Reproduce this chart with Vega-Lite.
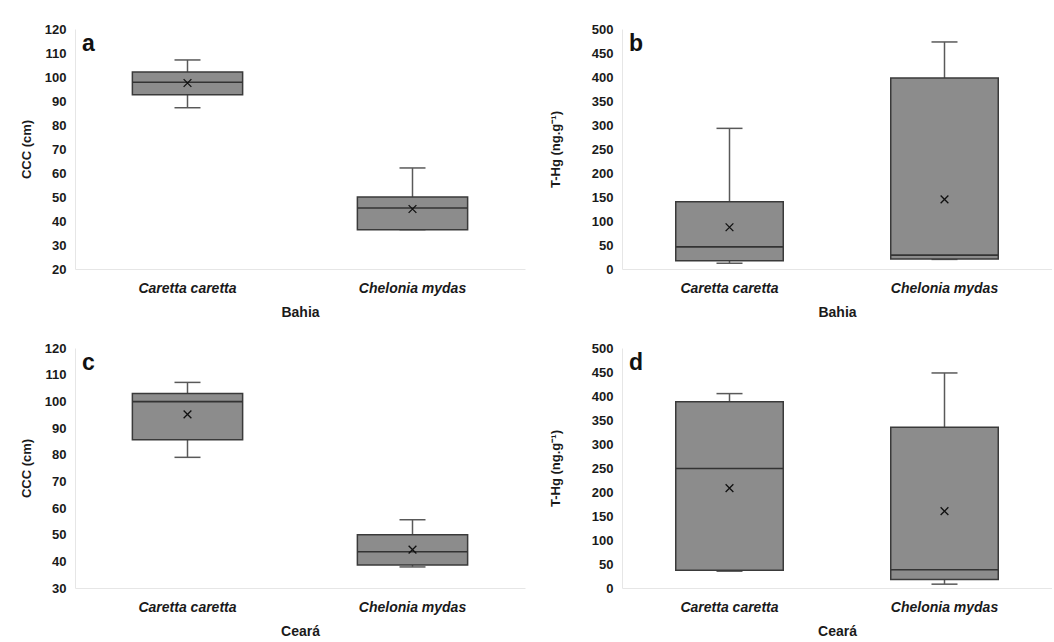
{
  "$schema": "https://vega.github.io/schema/vega-lite/v6.json",
  "padding": {"left": 20, "top": 23, "right": 0, "bottom": 0},
  "background": "white",
  "data": {"values": [
    {"panel": "a", "species": "Caretta caretta", "lower": 87.2, "q1": 92.6, "median": 97.8, "q3": 102.1, "upper": 107.1, "mean": 97.5},
    {"panel": "a", "species": "Chelonia mydas", "lower": 36.4, "q1": 36.4, "median": 45.4, "q3": 50, "upper": 62.1, "mean": 45},
    {"panel": "b", "species": "Caretta caretta", "lower": 12, "q1": 17, "median": 46, "q3": 140, "upper": 293, "mean": 87},
    {"panel": "b", "species": "Chelonia mydas", "lower": 20, "q1": 21, "median": 29, "q3": 398, "upper": 473, "mean": 145},
    {"panel": "c", "species": "Caretta caretta", "lower": 79, "q1": 85.6, "median": 99.9, "q3": 102.9, "upper": 107.1, "mean": 95.1},
    {"panel": "c", "species": "Chelonia mydas", "lower": 37.9, "q1": 38.6, "median": 43.6, "q3": 50, "upper": 55.6, "mean": 44.4},
    {"panel": "d", "species": "Caretta caretta", "lower": 35, "q1": 37, "median": 249, "q3": 388, "upper": 405, "mean": 208},
    {"panel": "d", "species": "Chelonia mydas", "lower": 8, "q1": 17.5, "median": 38, "q3": 335, "upper": 448, "mean": 160}
  ]},
  "columns": 2,
  "spacing": {"row": 79, "column": 97},
  "bounds": "flush",
  "concat": [
    {
      "width": 450, "height": 240,
      "title": {"text": "a", "anchor": "start", "frame": "group", "offset": -33, "dx": 7},
      "transform": [{"filter": "datum.panel == 'a'"}],
      "encoding": {
        "x": {"field": "species", "type": "nominal", "sort": null, "scale": {"paddingInner": 0, "paddingOuter": 0}, "title": "Bahia"}
      },
      "layer": [
        {"mark": {"type": "rule", "color": "#595959", "strokeWidth": 1.5}, "encoding": {"y": {"field": "lower", "type": "quantitative", "scale": {"domain": [20, 120], "nice": false, "zero": false}, "axis": {"titlePadding": 11}, "title": "CCC (cm)"}, "y2": {"field": "q1"}}},
        {"mark": {"type": "rule", "color": "#595959", "strokeWidth": 1.5}, "encoding": {"y": {"field": "q3", "type": "quantitative"}, "y2": {"field": "upper"}}},
        {"mark": {"type": "tick", "orient": "horizontal", "size": 26, "thickness": 1.5, "color": "#595959", "opacity": 1}, "encoding": {"y": {"field": "lower", "type": "quantitative"}}},
        {"mark": {"type": "tick", "orient": "horizontal", "size": 26, "thickness": 1.5, "color": "#595959", "opacity": 1}, "encoding": {"y": {"field": "upper", "type": "quantitative"}}},
        {"mark": {"type": "bar", "width": {"band": 0.49}, "fill": "#8c8c8c", "stroke": "#3a3a3a", "strokeWidth": 1.5}, "encoding": {"y": {"field": "q1", "type": "quantitative"}, "y2": {"field": "q3"}}},
        {"mark": {"type": "tick", "orient": "horizontal", "size": 110, "thickness": 1.6, "color": "#333333", "opacity": 1}, "encoding": {"y": {"field": "median", "type": "quantitative"}}},
        {"mark": {"type": "point", "shape": "M-1,-1L1,1M1,-1L-1,1", "size": 60, "filled": false, "stroke": "#111111", "strokeWidth": 1.3, "opacity": 1}, "encoding": {"y": {"field": "mean", "type": "quantitative"}}}
      ]
    },
    {
      "width": 430, "height": 240,
      "title": {"text": "b", "anchor": "start", "frame": "group", "offset": -33, "dx": 7},
      "transform": [{"filter": "datum.panel == 'b'"}],
      "encoding": {
        "x": {"field": "species", "type": "nominal", "sort": null, "scale": {"paddingInner": 0, "paddingOuter": 0}, "title": "Bahia"}
      },
      "layer": [
        {"mark": {"type": "rule", "color": "#595959", "strokeWidth": 1.5}, "encoding": {"y": {"field": "lower", "type": "quantitative", "scale": {"domain": [0, 500], "nice": false}, "axis": {"titlePadding": 29}, "title": "T-Hg (ng.g⁻¹)"}, "y2": {"field": "q1"}}},
        {"mark": {"type": "rule", "color": "#595959", "strokeWidth": 1.5}, "encoding": {"y": {"field": "q3", "type": "quantitative"}, "y2": {"field": "upper"}}},
        {"mark": {"type": "tick", "orient": "horizontal", "size": 26, "thickness": 1.5, "color": "#595959", "opacity": 1}, "encoding": {"y": {"field": "lower", "type": "quantitative"}}},
        {"mark": {"type": "tick", "orient": "horizontal", "size": 26, "thickness": 1.5, "color": "#595959", "opacity": 1}, "encoding": {"y": {"field": "upper", "type": "quantitative"}}},
        {"mark": {"type": "bar", "width": {"band": 0.5}, "fill": "#8c8c8c", "stroke": "#3a3a3a", "strokeWidth": 1.5}, "encoding": {"y": {"field": "q1", "type": "quantitative"}, "y2": {"field": "q3"}}},
        {"mark": {"type": "tick", "orient": "horizontal", "size": 107, "thickness": 1.6, "color": "#333333", "opacity": 1}, "encoding": {"y": {"field": "median", "type": "quantitative"}}},
        {"mark": {"type": "point", "shape": "M-1,-1L1,1M1,-1L-1,1", "size": 60, "filled": false, "stroke": "#111111", "strokeWidth": 1.3, "opacity": 1}, "encoding": {"y": {"field": "mean", "type": "quantitative"}}}
      ]
    },
    {
      "width": 450, "height": 240,
      "title": {"text": "c", "anchor": "start", "frame": "group", "offset": -33, "dx": 7},
      "transform": [{"filter": "datum.panel == 'c'"}],
      "encoding": {
        "x": {"field": "species", "type": "nominal", "sort": null, "scale": {"paddingInner": 0, "paddingOuter": 0}, "title": "Ceará"}
      },
      "layer": [
        {"mark": {"type": "rule", "color": "#595959", "strokeWidth": 1.5}, "encoding": {"y": {"field": "lower", "type": "quantitative", "scale": {"domain": [30, 120], "nice": false, "zero": false}, "axis": {"titlePadding": 11}, "title": "CCC (cm)"}, "y2": {"field": "q1"}}},
        {"mark": {"type": "rule", "color": "#595959", "strokeWidth": 1.5}, "encoding": {"y": {"field": "q3", "type": "quantitative"}, "y2": {"field": "upper"}}},
        {"mark": {"type": "tick", "orient": "horizontal", "size": 26, "thickness": 1.5, "color": "#595959", "opacity": 1}, "encoding": {"y": {"field": "lower", "type": "quantitative"}}},
        {"mark": {"type": "tick", "orient": "horizontal", "size": 26, "thickness": 1.5, "color": "#595959", "opacity": 1}, "encoding": {"y": {"field": "upper", "type": "quantitative"}}},
        {"mark": {"type": "bar", "width": {"band": 0.49}, "fill": "#8c8c8c", "stroke": "#3a3a3a", "strokeWidth": 1.5}, "encoding": {"y": {"field": "q1", "type": "quantitative"}, "y2": {"field": "q3"}}},
        {"mark": {"type": "tick", "orient": "horizontal", "size": 110, "thickness": 1.6, "color": "#333333", "opacity": 1}, "encoding": {"y": {"field": "median", "type": "quantitative"}}},
        {"mark": {"type": "point", "shape": "M-1,-1L1,1M1,-1L-1,1", "size": 60, "filled": false, "stroke": "#111111", "strokeWidth": 1.3, "opacity": 1}, "encoding": {"y": {"field": "mean", "type": "quantitative"}}}
      ]
    },
    {
      "width": 430, "height": 240,
      "title": {"text": "d", "anchor": "start", "frame": "group", "offset": -33, "dx": 7},
      "transform": [{"filter": "datum.panel == 'd'"}],
      "encoding": {
        "x": {"field": "species", "type": "nominal", "sort": null, "scale": {"paddingInner": 0, "paddingOuter": 0}, "title": "Ceará"}
      },
      "layer": [
        {"mark": {"type": "rule", "color": "#595959", "strokeWidth": 1.5}, "encoding": {"y": {"field": "lower", "type": "quantitative", "scale": {"domain": [0, 500], "nice": false}, "axis": {"titlePadding": 29}, "title": "T-Hg (ng.g⁻¹)"}, "y2": {"field": "q1"}}},
        {"mark": {"type": "rule", "color": "#595959", "strokeWidth": 1.5}, "encoding": {"y": {"field": "q3", "type": "quantitative"}, "y2": {"field": "upper"}}},
        {"mark": {"type": "tick", "orient": "horizontal", "size": 26, "thickness": 1.5, "color": "#595959", "opacity": 1}, "encoding": {"y": {"field": "lower", "type": "quantitative"}}},
        {"mark": {"type": "tick", "orient": "horizontal", "size": 26, "thickness": 1.5, "color": "#595959", "opacity": 1}, "encoding": {"y": {"field": "upper", "type": "quantitative"}}},
        {"mark": {"type": "bar", "width": {"band": 0.5}, "fill": "#8c8c8c", "stroke": "#3a3a3a", "strokeWidth": 1.5}, "encoding": {"y": {"field": "q1", "type": "quantitative"}, "y2": {"field": "q3"}}},
        {"mark": {"type": "tick", "orient": "horizontal", "size": 107, "thickness": 1.6, "color": "#333333", "opacity": 1}, "encoding": {"y": {"field": "median", "type": "quantitative"}}},
        {"mark": {"type": "point", "shape": "M-1,-1L1,1M1,-1L-1,1", "size": 60, "filled": false, "stroke": "#111111", "strokeWidth": 1.3, "opacity": 1}, "encoding": {"y": {"field": "mean", "type": "quantitative"}}}
      ]
    }
  ],
  "config": {
    "view": {"stroke": null},
    "font": "Liberation Sans",
    "title": {"font": "Liberation Sans", "fontSize": 23, "fontWeight": "bold", "color": "#111111", "baseline": "alphabetic"},
    "axis": {"grid": false, "ticks": false, "domainColor": "#e6e6e6", "domainWidth": 1, "labelOverlap": false, "labelFont": "Liberation Sans", "labelFontWeight": "bold", "labelColor": "#1a1a1a", "titleFont": "Liberation Sans", "titleFontWeight": "bold", "titleColor": "#1a1a1a"},
    "axisY": {"labelFontSize": 13, "labelPadding": 9, "titleFontSize": 13, "labelFlush": false, "tickCount": 10},
    "axisX": {"labelAngle": 0, "labelFontSize": 14, "labelFontStyle": "italic", "labelPadding": 12, "titleFontSize": 14, "titlePadding": 10}
  }
}
